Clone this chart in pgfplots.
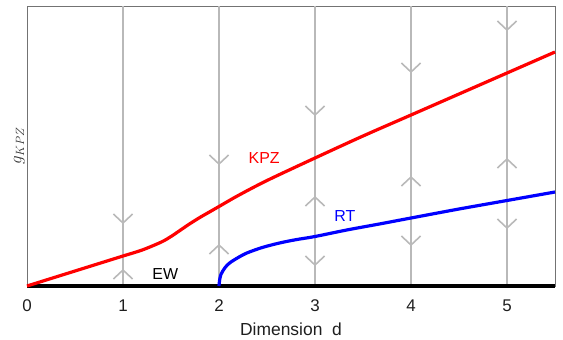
\documentclass[border=0pt]{standalone}
\usepackage{fontspec}
\setmainfont{Liberation Sans}
\usepackage{pgfplots}
\pgfplotsset{compat=1.18}
\definecolor{gline}{RGB}{185,185,185}
\definecolor{txt}{RGB}{30,30,30}
\begin{document}
\begin{tikzpicture}
\begin{axis}[
  scale only axis, width=528bp, height=280bp,
  xmin=0, xmax=5.5, ymin=0, ymax=280,
  xtick={0,1,2,3,4,5}, ytick=\empty,
  major tick length=0pt,
  axis line style={draw=black!55, line width=0.8bp},
  /pgf/number format/assume math mode=true,
  xticklabel style={font=\fontsize{17}{20}\selectfont, text=txt, yshift=-10bp},
  xlabel={Dimension\ \ d},
  xlabel style={font=\fontsize{17.5}{21}\selectfont, text=txt, yshift=-5bp},
  ylabel={\fontsize{18}{21}\selectfont$g_{KPZ}$},
  ylabel style={at={(axis description cs:0,0.5)}, anchor=south, inner sep=2bp, text=black!80},
  clip=false,
]
% gray flow lines
\addplot[gline, line width=2bp] coordinates {(1,0) (1,280)};
\addplot[gline, line width=2bp] coordinates {(2,0) (2,280)};
\addplot[gline, line width=2bp] coordinates {(3,0) (3,280)};
\addplot[gline, line width=2bp] coordinates {(4,0) (4,280)};
\addplot[gline, line width=2bp] coordinates {(5,0) (5,280)};
% chevrons x=1
\addplot[gline, line width=1.6bp] coordinates {(0.9,72) (1,63) (1.1,72)};
\addplot[gline, line width=1.6bp] coordinates {(0.9,7) (1,16) (1.1,7)};
% x=2
\addplot[gline, line width=1.6bp] coordinates {(1.9,131) (2,122) (2.1,131)};
\addplot[gline, line width=1.6bp] coordinates {(1.9,32) (2,41) (2.1,32)};
% x=3
\addplot[gline, line width=1.6bp] coordinates {(2.9,180) (3,171) (3.1,180)};
\addplot[gline, line width=1.6bp] coordinates {(2.9,80) (3,89) (3.1,80)};
\addplot[gline, line width=1.6bp] coordinates {(2.9,30) (3,21) (3.1,30)};
% x=4
\addplot[gline, line width=1.6bp] coordinates {(3.9,223) (4,214) (4.1,223)};
\addplot[gline, line width=1.6bp] coordinates {(3.9,100) (4,109) (4.1,100)};
\addplot[gline, line width=1.6bp] coordinates {(3.9,50) (4,41) (4.1,50)};
% x=5
\addplot[gline, line width=1.6bp] coordinates {(4.9,265) (5,256) (5.1,265)};
\addplot[gline, line width=1.6bp] coordinates {(4.9,118) (5,127) (5.1,118)};
\addplot[gline, line width=1.6bp] coordinates {(4.9,67) (5,58) (5.1,67)};
% EW
\addplot[black, line width=4bp] coordinates {(0,0) (5.5,0)};
% KPZ
\addplot[red, line width=3.2bp, smooth] coordinates {
 (0,0) (0.25,7.5) (0.5,15) (0.75,22.5) (1,30) (1.2,36) (1.4,44) (1.5,49.5) (1.6,56)
 (1.7,62.5) (1.8,68.5) (1.9,74) (2,79.5) (2.2,90.5) (2.5,105.5) (3,128) (3.5,150) (4,171) (4.5,192) (5,213) (5.5,234)};
% RT
\addplot[blue, line width=3.2bp, smooth] coordinates {
 (2,0) (2.005,5) (2.02,11.5) (2.06,18) (2.11,23) (2.2,28.5) (2.29,33) (2.45,38.5)
 (2.63,43) (2.8,46.3) (3,49.5) (3.33,56) (3.67,62) (4,68) (4.5,77) (5,85.5) (5.5,94)};
\node[text=red, font=\fontsize{16}{19}\selectfont] at (axis cs:2.47,128) {KPZ};
\node[text=blue, font=\fontsize{16}{19}\selectfont] at (axis cs:3.31,70) {RT};
\node[text=black, font=\fontsize{16}{19}\selectfont] at (axis cs:1.44,12) {EW};
\end{axis}
\path ([shift={(-27bp,-53bp)}]current axis.south west) rectangle ++(563bp,339bp);
\end{tikzpicture}
\end{document}
